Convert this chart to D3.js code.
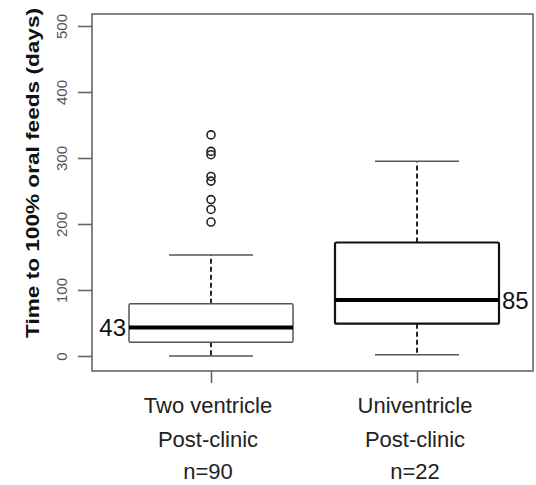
<!DOCTYPE html>
<html><head><meta charset="utf-8">
<script src="https://cdn.jsdelivr.net/npm/d3@7"></script>
<style>body{margin:0;background:#fff}svg{display:block}</style>
</head><body>
<svg id="chart" width="536" height="485"></svg>
<script>
const categories = ["Two ventricle", "Univentricle"];
const subLabels = ["Post-clinic", "Post-clinic"];
const nLabels = ["n=90", "n=22"];
const medians = [43, 85];
const q1 = [21, 49];
const q3 = [79, 172];
const whiskerLow = [0, 2];
const whiskerHigh = [153, 295];
const outliers0 = [335, 310, 305, 272, 265, 237, 222, 203];
const outliers1 = [];
const outliers = [outliers0, outliers1];
const medianLabels = ["43", "85"];
const yTicks = [0, 100, 200, 300, 400, 500];
const yTitle = "Time to 100% oral feeds (days)";

const svg = d3.select("#chart");
const frame = {left: 92, top: 14, right: 533, bottom: 371};
const y = d3.scaleLinear().domain([0, 500]).range([356, 26]);
const x = d3.scaleLinear().domain([0, 1]).range([211, 417]);
const boxHalf = 82, capHalf = 42;
const boxStroke = ["#555", "#111"];
const boxWidth = [1.5, 2.2];

// frame
svg.append("rect").attr("x", frame.left).attr("y", frame.top)
  .attr("width", frame.right - frame.left).attr("height", frame.bottom - frame.top)
  .attr("fill", "none").attr("stroke", "#666").attr("stroke-width", 1.6);

// y axis
const yAxis = d3.axisLeft(y).tickValues(yTicks).tickSize(14).tickFormat(d3.format("d"));
const yg = svg.append("g").attr("transform", `translate(${frame.left},0)`).call(yAxis);
yg.select(".domain").remove();
yg.selectAll(".tick line").attr("stroke", "#666").attr("stroke-width", 1.6);
yg.selectAll(".tick text").remove();
yg.selectAll(".tick").append("text")
  .attr("transform", "translate(-30,0) rotate(-90)")
  .attr("text-anchor", "middle").attr("dy", "0.35em")
  .attr("fill", "#555").style("font-family", "Liberation Sans, Arial, sans-serif")
  .style("font-size", "15px").text(d => d);

// x axis ticks
const xAxis = d3.axisBottom(x).tickValues([0, 1]).tickSize(12).tickFormat("");
const xg = svg.append("g").attr("transform", `translate(0,${frame.bottom})`).call(xAxis);
xg.select(".domain").remove();
xg.selectAll(".tick line").attr("stroke", "#666").attr("stroke-width", 1.6);

// y title
svg.append("text")
  .attr("transform", `translate(39,${(8 + 338) / 2}) rotate(-90)`)
  .attr("text-anchor", "middle")
  .attr("textLength", 330).attr("lengthAdjust", "spacingAndGlyphs")
  .style("font-family", "Liberation Sans, Arial, sans-serif")
  .style("font-size", "18px").style("font-weight", "bold").attr("fill", "#111")
  .text(yTitle);

// boxes
categories.forEach((c, i) => {
  const cx = x(i);
  const g = svg.append("g");
  const st = boxStroke[i], sw = boxWidth[i];
  g.append("line").attr("x1", cx).attr("x2", cx).attr("y1", y(q3[i])).attr("y2", y(whiskerHigh[i]))
    .attr("stroke", "#111").attr("stroke-width", 1.8).attr("stroke-dasharray", "5,3");
  g.append("line").attr("x1", cx).attr("x2", cx).attr("y1", y(q1[i])).attr("y2", y(whiskerLow[i]))
    .attr("stroke", "#111").attr("stroke-width", 1.8).attr("stroke-dasharray", "5,3");
  [whiskerHigh[i], whiskerLow[i]].forEach(v => {
    g.append("line").attr("x1", cx - capHalf).attr("x2", cx + capHalf).attr("y1", y(v)).attr("y2", y(v))
      .attr("stroke", "#555").attr("stroke-width", 1.6);
  });
  g.append("rect").attr("x", cx - boxHalf).attr("y", y(q3[i]))
    .attr("width", boxHalf * 2).attr("height", y(q1[i]) - y(q3[i]))
    .attr("fill", "#fff").attr("stroke", st).attr("stroke-width", sw).attr("rx", 1.5);
  g.append("line").attr("x1", cx - boxHalf).attr("x2", cx + boxHalf).attr("y1", y(medians[i])).attr("y2", y(medians[i]))
    .attr("stroke", "#000").attr("stroke-width", 4);
  g.selectAll("circle").data(outliers[i]).join("circle")
    .attr("cx", cx).attr("cy", d => y(d)).attr("r", 4)
    .attr("fill", "none").attr("stroke", "#222").attr("stroke-width", 1.6);
  g.append("text")
    .attr("x", i === 0 ? cx - boxHalf - 3 : cx + boxHalf + 3)
    .attr("y", y(medians[i])).attr("dy", "0.36em")
    .attr("text-anchor", i === 0 ? "end" : "start")
    .style("font-family", "Liberation Sans, Arial, sans-serif").style("font-size", "24px")
    .attr("fill", "#111").text(medianLabels[i]);
  const lbl = [categories[i], subLabels[i], nLabels[i]];
  const ys = [413, 447, 479];
  lbl.forEach((t, k) => {
    svg.append("text").attr("x", cx - 3 + i * 1).attr("y", ys[k]).attr("text-anchor", "middle")
      .style("font-family", "Liberation Sans, Arial, sans-serif").style("font-size", "22px")
      .attr("fill", "#222").text(t);
  });
});
</script>
</body></html>
